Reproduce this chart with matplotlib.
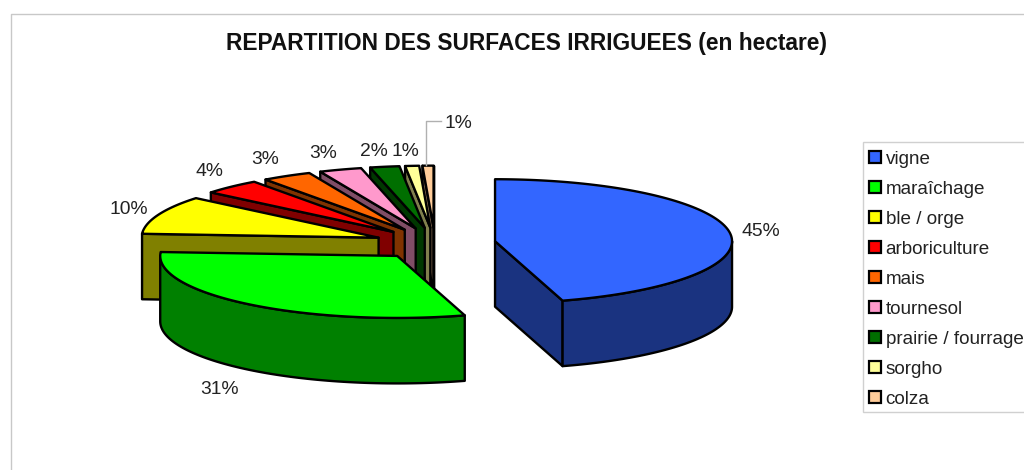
#Exploded 3D pie of the irrigated surfaces, drawn by hand since matplotlib has no 3D pie

import numpy as np
import matplotlib
matplotlib.use('Agg')
import matplotlib.pyplot as plt
from matplotlib.patches import Polygon, Rectangle

plt.rcParams['font.family'] = ['Liberation Sans', 'DejaVu Sans']

title = 'REPARTITION DES SURFACES IRRIGUEES (en hectare)'
cultures = ['vigne', 'maraîchage', 'ble / orge', 'arboriculture', 'mais',
            'tournesol', 'prairie / fourrage', 'sorgho', 'colza']
shares = [45.4, 30.6, 10.0, 4.0, 3.4, 2.9, 2.0, 0.95, 0.75]
top_colors = ['#3366ff', '#00ff00', '#ffff00', '#ff0000', '#ff6600',
              '#ff99cc', '#006f00', '#ffff99', '#ffcc99']
side_colors = ['#1a3380', '#008000', '#808000', '#800000', '#803300',
               '#804d66', '#003800', '#80804d', '#80664d']

#Pie geometry in pixels
cx, cy = 435.0, 243.5
rx, ry = 237.0, 62.0
explode = 0.256
thick = 65.5
lw = 1.7
text_color = '#222222'

label_xy = [(761, 232), (220, 390), (129, 209), (209, 172), (265, 160),
            (323, 154), (374, 151), (405, 151), (458, 124)]

fig = plt.figure(figsize=(10.24, 4.70), dpi=100)
ax = fig.add_axes([0, 0, 1, 1])
ax.set_xlim(0, 1024)
ax.set_ylim(470, 0)
ax.axis('off')

#Chart area border
ax.plot([1024, 10.5, 10.5], [13.5, 13.5, 470], color='#c8c8c8', lw=1.0)


def point(x0, y0, angle, r=1.0):
    return (x0 + r*rx*np.sin(angle), y0 - r*ry*np.cos(angle))


def face(pts, color):
    ax.add_patch(Polygon(pts, closed=True, facecolor=color, edgecolor='k',
                         lw=lw, joinstyle='round'))


edges = np.radians(np.concatenate(([0], np.cumsum(shares)))*3.6)

#Back slices first, so the front ones cover them
for i in reversed(range(len(shares))):
    a1, a2 = edges[i], edges[i+1]
    mid = 0.5*(a1 + a2)
    x0, y0 = point(cx, cy, mid, explode)

    c_top = (x0, y0)
    c_bot = (x0, y0 + thick)

    #Cut faces, only where they look towards the viewer
    if np.cos(a1 - np.pi/2) < 0:
        p = point(x0, y0, a1)
        face([c_top, p, (p[0], p[1] + thick), c_bot], side_colors[i])
    if np.cos(a2 + np.pi/2) < 0:
        p = point(x0, y0, a2)
        face([c_top, p, (p[0], p[1] + thick), c_bot], side_colors[i])

    #Outer wall on the front half of the rim
    lo, hi = max(a1, np.pi/2), min(a2, 1.5*np.pi)
    if lo < hi:
        t = np.linspace(lo, hi, 80)
        xs, ys = point(x0, y0, t)
        face(list(zip(xs, ys)) + list(zip(xs[::-1], ys[::-1] + thick)), side_colors[i])

    #Top face
    t = np.linspace(a1, a2, 120)
    xs, ys = point(x0, y0, t)
    face([c_top] + list(zip(xs, ys)), top_colors[i])

#Percent labels
for s, (x, y) in zip(shares, label_xy):
    ax.text(x, y, '%d%%' % round(s), ha='center', va='center', fontsize=13.9, color=text_color)

#Leader line of the last label
ax.plot([426, 426, 441], [165, 121, 121], color='#b0b0b0', lw=1.0)

ax.text(526, 43.5, title, ha='center', va='center', fontsize=16.35, fontweight='bold', color='#111111')

#Legend, cut by the right edge like the original
ax.add_patch(Rectangle((862.5, 141.5), 200, 270, facecolor='white', edgecolor='#d0d0d0', lw=1.0))
for i, name in enumerate(cultures):
    y = 157 + 30*i
    ax.add_patch(Rectangle((868.5, y - 6.5), 12.5, 12.5, facecolor=top_colors[i], edgecolor='k', lw=1.6))
    ax.text(885.5, y + 2, name, ha='left', va='center', fontsize=13.6, color=text_color)

fig.savefig('out.png', dpi=100)
